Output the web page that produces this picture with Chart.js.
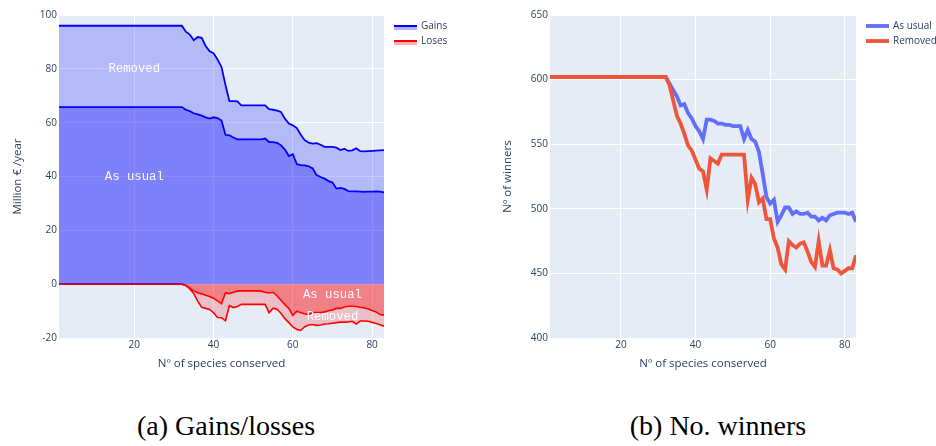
<!DOCTYPE html>
<html lang="en">
<head>
<meta charset="UTF-8">
<title>Gains/losses and No. winners</title>
<script src="https://cdn.jsdelivr.net/npm/chart.js@4.4.1/dist/chart.umd.min.js"></script>
<style>
  body {
    margin: 0;
    background: #fff;
    width: 936px;
    height: 446px;
    position: relative;
    overflow: hidden;
  }
  canvas { position: absolute; top: 0; }
  #gains { left: 0; }
  #winners { left: 468px; }
  .caption {
    position: absolute;
    top: 412px;
    font-family: 'Liberation Serif', 'Times New Roman', serif;
    font-size: 28px;
    line-height: 28px;
    color: #000;
    white-space: nowrap;
    transform: translateX(-50%);
  }
</style>
</head>
<body>

<canvas id="gains" width="468" height="380"></canvas>
<canvas id="winners" width="468" height="380"></canvas>
<div class="caption" style="left: 226px;">(a) Gains/losses</div>
<div class="caption" style="left: 718px;">(b) No. winners</div>

<script>
// number of species conserved (x axis)
const species = Array.from({ length: 83 }, (_, i) => i + 1);

// Million € / year
const gainsUsual = [
  65.8, 65.8, 65.8, 65.8, 65.8, 65.8, 65.8, 65.8, 65.8, 65.8,
  65.8, 65.8, 65.8, 65.8, 65.8, 65.8, 65.8, 65.8, 65.8, 65.8,
  65.8, 65.8, 65.8, 65.8, 65.8, 65.8, 65.8, 65.8, 65.8, 65.8,
  65.8, 65.8,
  64.8, 64.3, 63.5, 63.1, 62.6, 62.0, 61.5, 62.0, 61.7, 60.8,
  55.5, 55.3, 54.5, 53.8, 53.8, 53.8, 53.8, 53.8, 53.8, 53.8,
  54.1, 52.8, 52.8, 52.5, 51.6, 50.0, 47.6, 48.3, 44.6, 44.2,
  44.1, 43.8, 43.0, 40.5, 39.8, 39.2, 38.3, 37.8, 35.5, 35.8,
  35.4, 34.6, 34.5, 34.5, 34.4, 34.3, 34.4, 34.4, 34.5, 34.4,
  34.1
];
const gainsRemoved = [
  96, 96, 96, 96, 96, 96, 96, 96, 96, 96,
  96, 96, 96, 96, 96, 96, 96, 96, 96, 96,
  96, 96, 96, 96, 96, 96, 96, 96, 96, 96,
  96, 96,
  93.8, 92.7, 90.6, 91.8, 91.5, 88.5, 86.5, 85.8, 83.5, 80.7,
  74.0, 68.0, 68.0, 67.9, 66.4, 66.4, 66.4, 66.4, 66.4, 66.4,
  66.4, 65.0, 64.8, 64.5, 64.0, 61.5, 59.7, 59.0, 58.0, 55.5,
  53.5, 52.6, 52.2, 52.4, 51.8, 51.0, 51.0, 51.0, 50.7, 49.8,
  50.3, 49.5, 49.7, 50.5, 49.4, 49.3, 49.4, 49.5, 49.6, 49.7,
  49.8
];
const lossesUsual = [
  0, 0, 0, 0, 0, 0, 0, 0, 0, 0,
  0, 0, 0, 0, 0, 0, 0, 0, 0, 0,
  0, 0, 0, 0, 0, 0, 0, 0, 0, 0,
  0, 0,
  -0.5, -1.5, -2.5, -3.2, -3.6, -4.1, -4.6, -5.2, -6.2, -7.3,
  -3.2, -3.5, -3.0, -2.6, -2.5, -2.5, -2.5, -2.5, -2.5, -2.6,
  -3.0, -3.3, -3.0, -4.3, -6.0, -7.6, -9.0, -11.6, -10.0, -10.6,
  -11.0, -11.3, -10.5, -10.5, -10.5, -10.3, -9.9, -9.6, -9.0, -9.0,
  -8.5, -8.2, -8.2, -8.3, -8.6, -8.8, -9.2, -9.8, -10.3, -11.3,
  -11.5
];
const lossesRemoved = [
  0, 0, 0, 0, 0, 0, 0, 0, 0, 0,
  0, 0, 0, 0, 0, 0, 0, 0, 0, 0,
  0, 0, 0, 0, 0, 0, 0, 0, 0, 0,
  0, 0,
  -0.5, -1.8, -3.5, -6.3, -8.6, -9.0, -9.4, -10.6, -12.4, -12.5,
  -13.6, -8.0, -8.7, -8.3, -7.5, -7.5, -7.5, -7.5, -7.5, -7.5,
  -7.5, -10.6, -8.9, -9.3, -10.8, -12.8, -14.3, -15.9, -16.8, -17.2,
  -15.8, -15.2, -15.0, -15.3, -15.2, -14.8, -14.7, -14.5, -14.3, -14.1,
  -14.1, -14.0, -13.8, -14.8, -13.7, -13.7, -13.8, -14.2, -14.6, -15.1,
  -15.6
];

// number of winners
const winnersUsual = [
  602, 602, 602, 602, 602, 602, 602, 602, 602, 602,
  602, 602, 602, 602, 602, 602, 602, 602, 602, 602,
  602, 602, 602, 602, 602, 602, 602, 602, 602, 602,
  602, 602,
  597, 592, 587, 580, 581, 574, 570, 564, 560, 554,
  569, 569, 568, 566, 566, 565, 565, 564, 564, 564,
  554, 561, 554, 552, 544, 527, 509, 504, 507, 490,
  495, 501, 501, 496, 498, 496, 496, 497, 494, 494,
  491, 493, 491, 495, 496, 497, 497, 497, 496, 497,
  490
];
const winnersRemoved = [
  602, 602, 602, 602, 602, 602, 602, 602, 602, 602,
  602, 602, 602, 602, 602, 602, 602, 602, 602, 602,
  602, 602, 602, 602, 602, 602, 602, 602, 602, 602,
  602, 602,
  596, 584, 572, 566, 558, 549, 545, 538, 531, 529,
  515, 539, 537, 535, 542, 542, 542, 542, 542, 542,
  542, 507, 524, 519, 505, 508, 492, 492, 477, 470,
  457, 453, 475, 472, 470, 473, 474, 467, 459, 455,
  475, 456, 456, 468, 454, 453, 450, 452, 454, 454,
  464
];

// axis ticks
const speciesTicks = [20, 40, 60, 80];
const moneyTicks = [-20, 0, 20, 40, 60, 80, 100];
const winnerTicks = [400, 450, 500, 550, 600, 650];

// text labels inside the gains/losses areas
const areaNotes = [
  { text: 'Removed', x: 20, y: 80 },
  { text: 'As usual', x: 20, y: 40 },
  { text: 'As usual', x: 70, y: -4 },
  { text: 'Removed', x: 70, y: -12 }
];

const INK = '#2a3f5f';
const FAMILY = "'Open Sans', sans-serif";
const tickFont = { family: FAMILY, size: 10 };
const titleFont = { family: FAMILY, size: 11.5 };

function points(ys) {
  return ys.map((y, i) => ({ x: species[i], y: y }));
}

// plotly-like light blue plot background
const plotBackground = {
  id: 'plotBackground',
  beforeDraw(chart) {
    const { ctx, chartArea: a } = chart;
    ctx.save();
    ctx.fillStyle = '#e5ecf6';
    ctx.fillRect(a.left, a.top, a.right - a.left, a.bottom - a.top);
    ctx.restore();
  }
};

// legend to the right of the plot, line samples (items kept in a closure)
function sideLegend(items) {
  return {
    id: 'sideLegend',
    afterDraw(chart) {
      const ctx = chart.ctx;
      const x0 = chart.chartArea.right + 10;
      ctx.save();
      items.forEach((it, i) => {
        const y = 26 + i * 15;
        if (it.swatch) {
          ctx.fillStyle = it.swatch;
          ctx.fillRect(x0, y, 23, 4);
        }
        ctx.fillStyle = it.color;
        ctx.fillRect(x0, y - it.width / 2, 23, it.width);
        ctx.fillStyle = INK;
        ctx.font = "10px 'Open Sans', sans-serif";
        ctx.textBaseline = 'middle';
        ctx.textAlign = 'left';
        ctx.fillText(it.text, x0 + 27, y);
      });
      ctx.restore();
    }
  };
}

// white monospace labels placed in data coordinates
function areaLabels(notes) {
  return {
    id: 'areaLabels',
    afterDatasetsDraw(chart) {
      const { ctx, scales } = chart;
      ctx.save();
      ctx.fillStyle = 'rgba(255, 255, 255, 0.95)';
      ctx.font = "12.3px 'Liberation Mono', monospace";
      ctx.textAlign = 'center';
      ctx.textBaseline = 'middle';
      notes.forEach(n => {
        ctx.fillText(n.text, scales.x.getPixelForValue(n.x), scales.y.getPixelForValue(n.y));
      });
      ctx.restore();
    }
  };
}

function axes(yMin, yMax, yTicks, yTitle, yWidth, yTitlePad) {
  return {
    x: {
      type: 'linear',
      min: 1,
      max: 83,
      afterBuildTicks: s => { s.ticks = speciesTicks.map(v => ({ value: v })); },
      afterFit: s => { s.height = 42; },
      grid: { color: '#ffffff', lineWidth: 1, drawTicks: false },
      border: { display: false },
      ticks: { padding: 1, color: INK, font: tickFont, maxRotation: 0 },
      title: {
        display: true, text: 'Nº of species conserved', color: INK,
        font: titleFont, padding: { top: 0, bottom: 9 }
      }
    },
    y: {
      min: yMin,
      max: yMax,
      afterBuildTicks: s => { s.ticks = yTicks.map(v => ({ value: v })); },
      afterFit: s => { s.width = yWidth; },
      grid: { color: '#ffffff', lineWidth: 1, drawTicks: false },
      border: { display: false },
      ticks: { padding: 2, color: INK, font: tickFont },
      title: {
        display: true, text: yTitle, color: INK,
        font: titleFont, padding: { top: yTitlePad, bottom: 0 }
      }
    }
  };
}

new Chart(document.getElementById('gains'), {
  type: 'line',
  data: {
    datasets: [
      { label: 'Gains as usual', data: points(gainsUsual), borderColor: '#0000ff', borderWidth: 1.8,
        backgroundColor: 'rgba(0, 0, 255, 0.45)', fill: 'origin' },
      { label: 'Gains removed', data: points(gainsRemoved), borderColor: '#0000ff', borderWidth: 1.8,
        backgroundColor: 'rgba(0, 0, 255, 0.21)', fill: '-1' },
      { label: 'Loses as usual', data: points(lossesUsual), borderColor: '#ff0000', borderWidth: 1.6,
        backgroundColor: 'rgba(255, 0, 0, 0.45)', fill: 'origin' },
      { label: 'Loses removed', data: points(lossesRemoved), borderColor: '#ff0000', borderWidth: 1.6,
        backgroundColor: 'rgba(255, 0, 0, 0.19)', fill: '-1' }
    ]
  },
  options: {
    responsive: false,
    animation: false,
    layout: { padding: { top: 15, right: 84, left: 0, bottom: 0 } },
    elements: { point: { radius: 0 }, line: { tension: 0 } },
    plugins: { legend: { display: false }, tooltip: { enabled: false } },
    scales: axes(-20, 100, moneyTicks, 'Million € /year', 59, 11)
  },
  plugins: [
    plotBackground,
    sideLegend([
      { text: 'Gains', color: '#0000ff', width: 2, swatch: 'rgba(0, 0, 255, 0.3)' },
      { text: 'Loses', color: '#ff0000', width: 2, swatch: 'rgba(255, 0, 0, 0.3)' }
    ]),
    areaLabels(areaNotes)
  ]
});

new Chart(document.getElementById('winners'), {
  type: 'line',
  data: {
    datasets: [
      { label: 'As usual', data: points(winnersUsual), borderColor: '#636efa', borderWidth: 3.8, order: 2, fill: false },
      { label: 'Removed', data: points(winnersRemoved), borderColor: '#ef553b', borderWidth: 3.8, order: 1, fill: false }
    ]
  },
  options: {
    responsive: false,
    animation: false,
    layout: { padding: { top: 15, right: 80, left: 0, bottom: 0 } },
    elements: { point: { radius: 0 }, line: { tension: 0 } },
    plugins: { legend: { display: false }, tooltip: { enabled: false } },
    scales: axes(400, 650, winnerTicks, 'Nº of winners', 82, 33)
  },
  plugins: [
    plotBackground,
    sideLegend([
      { text: 'As usual', color: '#636efa', width: 3.8 },
      { text: 'Removed', color: '#ef553b', width: 3.8 }
    ])
  ]
});
</script>

</body>
</html>
